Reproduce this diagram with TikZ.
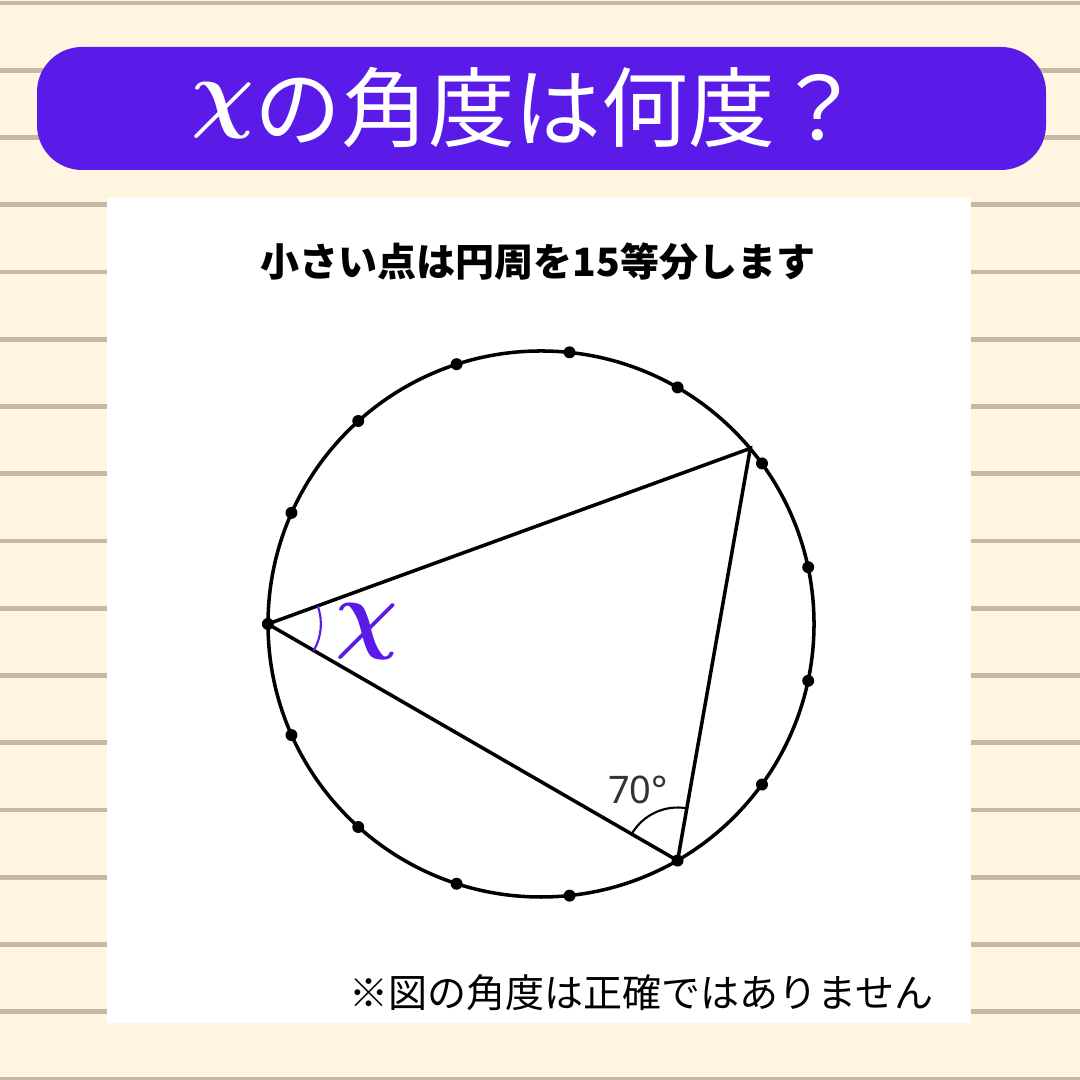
\documentclass[tikz,border=0pt]{standalone}
\usepackage{amsmath}
\usepackage{fontspec}
\setmainfont{Noto Sans}
\newfontfamily\jp{Noto Sans CJK JP}
\usetikzlibrary{angles}

\definecolor{cream}{HTML}{FFF5E0}
\definecolor{rulegray}{HTML}{C4BBA6}
\definecolor{banner}{HTML}{5A1AE8}

\tikzset{
  stripe/.style={draw=rulegray,line width=1.4pt},
  dotpt/.style={circle,fill=black,inner sep=0pt,minimum size=3.4pt},
  edge/.style={line width=1pt},
}

\begin{document}
\begin{tikzpicture}[x=0.01cm,y=0.01cm]
  \useasboundingbox (0,0) rectangle (1080,1080);
  \fill[cream] (0,0) rectangle (1080,1080);
  \foreach \k in {0,...,16}
    \draw[stripe] (0,{1077-67.25*\k}) -- (1080,{1077-67.25*\k});

  % banner and sheet
  \fill[banner,rounded corners=12.8pt] (37,910) rectangle (1046,1033);
  \fill[white] (107,57) rectangle (971,882);

  \node[text=white] (title) at (527,972)
    {\fontsize{24.7pt}{30pt}\selectfont\raisebox{0.22em}{\fontsize{34pt}{34pt}\selectfont$\boldsymbol{\chi}$}\jp の角度は何度？};
  \node (sub) at (538,818) {\jp\bfseries\fontsize{11.1pt}{13pt}\selectfont 小さい点は円周を15等分します};

  % circle with 15 points
  \coordinate (O) at (541,456);
  \draw[edge] (O) circle[radius=273];
  \coordinate (B) at ([shift={(40:2.73cm)}]O);
  \foreach \k in {0,...,14}
    \node[dotpt] (p\k) at ([shift={(180+24*\k:2.73cm)}]O) {};

  \draw[edge] (p0.center) -- (B) -- (p5.center) -- cycle;

  \pic[draw,line width=0.6pt,angle radius=0.53cm] {angle=B--p5--p0};
  \pic[draw=banner,line width=0.6pt,angle radius=0.53cm] {angle=p5--p0--B};

  \node[text=banner] (xlbl) at (367,448) {\fontsize{25pt}{25pt}\selectfont$\boldsymbol{\chi}$};
  \node[text=black!80] (deg) at (638,290) {\fontsize{10.8pt}{12pt}\selectfont 70°};

  \node[anchor=east] (note) at (946,87) {\jp\fontsize{11.1pt}{14pt}\selectfont ※図の角度は正確ではありません};
\end{tikzpicture}
\end{document}
